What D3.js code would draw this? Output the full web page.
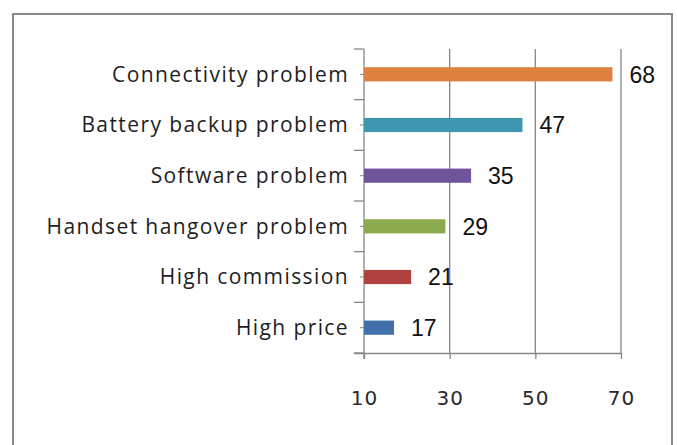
<!DOCTYPE html>
<html>
<head>
<meta charset="utf-8">
<script src="https://cdn.jsdelivr.net/npm/d3@7/dist/d3.min.js"></script>
<style>
  body { margin: 0; background: #fff; }
</style>
</head>
<body>
<div id="chart"></div>
<script>
// data, top to bottom as in the chart
const categories = ["Connectivity problem", "Battery backup problem", "Software problem",
                    "Handset hangover problem", "High commission", "High price"];
const values = [68, 47, 35, 29, 21, 17];
const colors = ["#dd813e", "#3f97af", "#6f549b", "#8caa4e", "#b0413e", "#4170aa"];
const xTicks = [10, 30, 50, 70];

function createSvg(container, width, height){
    return d3.select(container).append("svg").attr("width", width).attr("height", height);
}

function createScales(left, right, top, bottom){
    let x = d3.scaleLinear().domain([10, 70]).range([left, right]);
    let y = d3.scaleBand().domain(categories).range([top, bottom]).paddingInner(0.72).paddingOuter(0.36);
    return {x, y};
}

let width = 677, height = 445;
let plot = {left: 364, right: 621, top: 49, bottom: 353};
let svg = createSvg("#chart", width, height);
let {x, y} = createScales(plot.left, plot.right, plot.top, plot.bottom);
let grey = "#878787";

// outer frame
svg.append("rect").attr("x", 13).attr("y", 14).attr("width", 659).attr("height", 460)
    .attr("fill", "none").attr("stroke", grey).attr("stroke-width", 2);

// vertical grid
svg.append("g").selectAll("line").data(xTicks.slice(1)).join("line")
    .attr("x1", d => x(d)).attr("x2", d => x(d))
    .attr("y1", plot.top).attr("y2", plot.bottom)
    .attr("stroke", grey).attr("stroke-width", 1.3);

// bottom axis
let xAxis = d3.axisBottom(x).tickValues(xTicks).tickSize(6).tickSizeOuter(0);
let gx = svg.append("g").attr("transform", `translate(0,${plot.bottom})`).call(xAxis);
gx.select(".domain").attr("stroke", grey).attr("stroke-width", 1.3)
    .attr("d", `M${plot.left - 10},0.5H${plot.right}`);
gx.selectAll(".tick line").attr("stroke", grey).attr("stroke-width", 1.3);
gx.selectAll(".tick text").attr("y", 52).attr("dy", 0)
    .attr("font-family", "DejaVu Sans").attr("font-size", 20).attr("letter-spacing", 1)
    .attr("fill", "#2a2a2a");

// left axis: ticks at band boundaries
let step = y.step();
let bounds = d3.range(categories.length + 1).map(i => plot.top + i * step);
let gy = svg.append("g");
gy.append("line").attr("x1", plot.left).attr("x2", plot.left)
    .attr("y1", plot.top).attr("y2", plot.bottom + 6)
    .attr("stroke", grey).attr("stroke-width", 1.3);
gy.selectAll("line.b").data(bounds).join("line").attr("class", "b")
    .attr("x1", plot.left - 10).attr("x2", plot.left)
    .attr("y1", d => d).attr("y2", d => d)
    .attr("stroke", grey).attr("stroke-width", 1.3);

// bars
svg.append("g").selectAll("rect").data(values).join("rect")
    .attr("x", x(10)).attr("y", (d, i) => y(categories[i]))
    .attr("width", d => x(d) - x(10)).attr("height", y.bandwidth())
    .attr("fill", (d, i) => colors[i]);

// small marks at band centres
gy.selectAll("line.c").data(categories).join("line").attr("class", "c")
    .attr("x1", plot.left - 4).attr("x2", plot.left + 4)
    .attr("y1", d => y(d) + y.bandwidth() / 2).attr("y2", d => y(d) + y.bandwidth() / 2)
    .attr("stroke", grey).attr("stroke-width", 1);

// category labels
svg.append("g").selectAll("text").data(categories).join("text")
    .attr("x", 349).attr("y", d => y(d) + y.bandwidth() / 2)
    .attr("dy", "0.35em").attr("text-anchor", "end")
    .attr("font-family", "Open Sans").attr("font-size", 21).attr("letter-spacing", 1.4)
    .attr("fill", "#1e1e1e")
    .text(d => d);

// value labels
svg.append("g").selectAll("text").data(values).join("text")
    .attr("x", d => x(d) + 17).attr("y", (d, i) => y(categories[i]) + y.bandwidth() / 2)
    .attr("dy", "0.36em")
    .attr("font-family", "Liberation Sans").attr("font-size", 23).attr("fill", "#111")
    .text(d => d);
</script>
</body>
</html>
